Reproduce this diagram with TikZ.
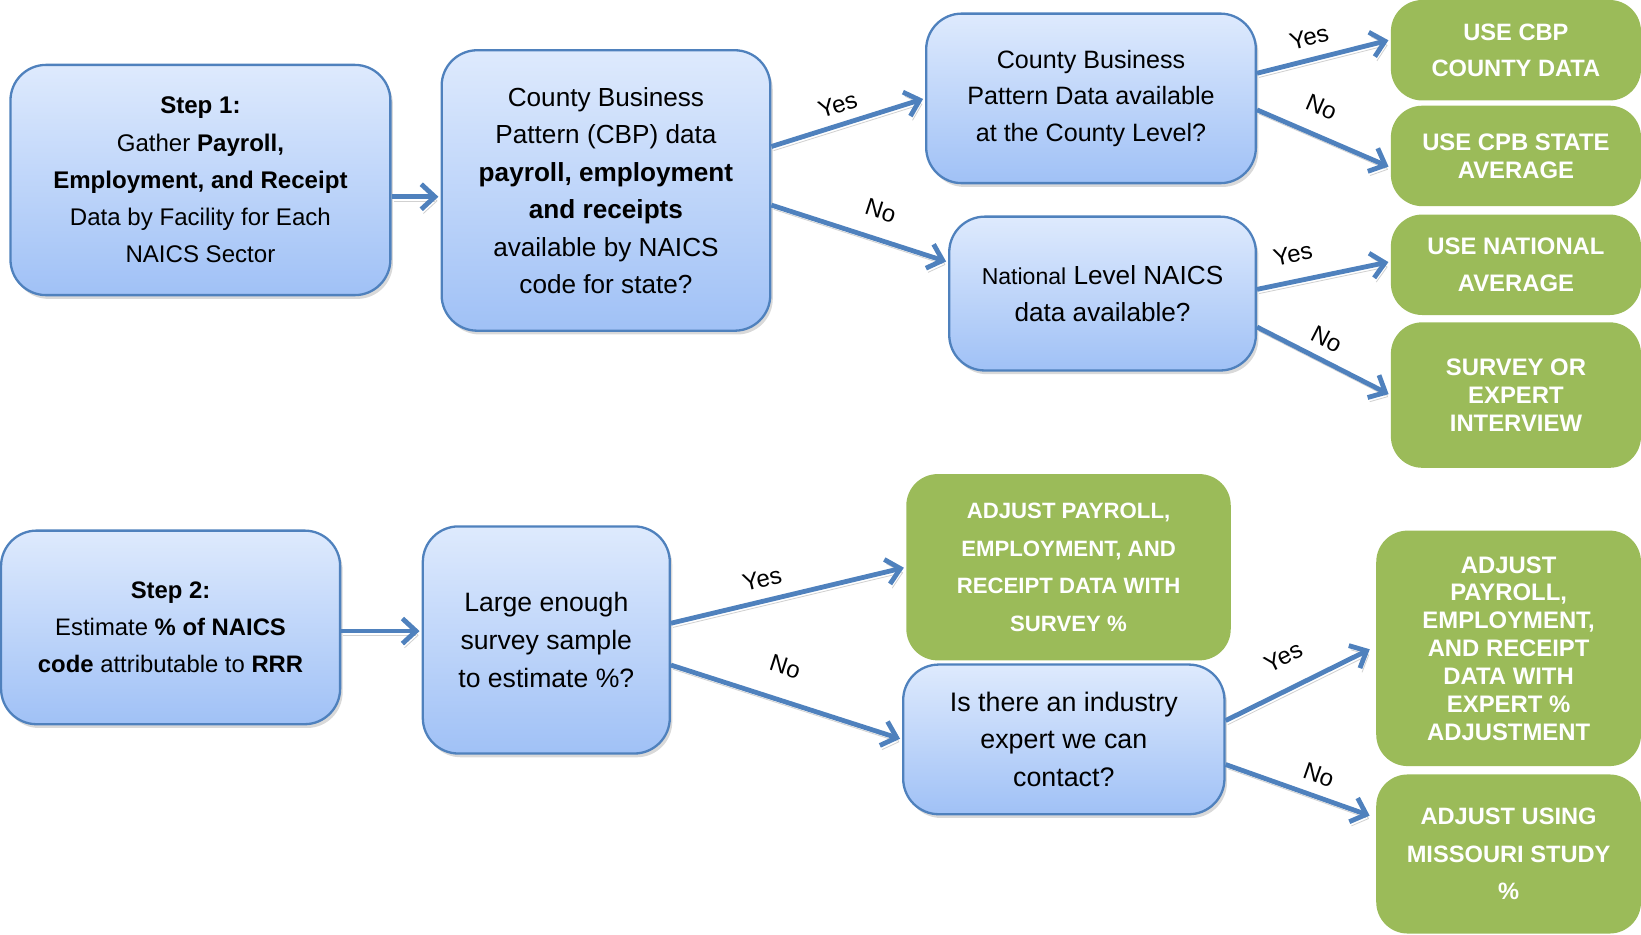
\documentclass[tikz,border=0pt]{standalone}
\usepackage{fontspec}
\setmainfont{Liberation Sans}
\usetikzlibrary{arrows.meta,shadows}
\definecolor{bluetop}{RGB}{222,234,253}
\definecolor{bluebot}{RGB}{160,193,246}
\definecolor{blueline}{RGB}{79,129,189}
\definecolor{greenfill}{RGB}{155,187,89}
\tikzset{
 bbox/.style={rectangle, rounded corners=17pt, draw=blueline, line width=1.1pt, top color=bluetop, bottom color=bluebot, align=center, inner sep=0pt, drop shadow={opacity=0.3,shadow xshift=1.2pt,shadow yshift=-1.8pt}},
 gbox/.style={rectangle, rounded corners=15pt, fill=greenfill, text=white, align=center, inner sep=0pt},
 conn/.style={draw=blueline, line width=2.3pt, shorten >=1pt, -{Straight Barb[length=6.5pt,width=12pt]},
   preaction={draw=black, opacity=0.18, transform canvas={xshift=1pt,yshift=-2pt}}},
 lbl/.style={sloped, above, font=\fontsize{11.5}{13}\selectfont, text=black}
}
\begin{document}
\begin{tikzpicture}[x=0.5pt,y=-0.5pt]
\useasboundingbox (0,0) rectangle (1568,893);
% blue boxes
\node[bbox, minimum width=181.5pt, minimum height=110pt, font=\fontsize{11.5}{17.8}\selectfont] (s1) at (191.5,172)
 {\textbf{Step 1:}\\Gather \textbf{Payroll,}\\\textbf{Employment, and Receipt}\\Data by Facility for Each\\NAICS Sector};
\node[bbox, minimum width=157pt, minimum height=134pt, font=\fontsize{12.5}{17.9}\selectfont] (cbp) at (579,182)
 {County Business\\Pattern (CBP) data\\\textbf{payroll, employment}\\\textbf{and receipts}\\available by NAICS\\code for state?};
\node[bbox, minimum width=157.5pt, minimum height=81pt, font=\fontsize{12}{17.5}\selectfont] (cty) at (1042.5,94)
 {County Business\\Pattern Data available\\at the County Level?};
\node[bbox, minimum width=146.5pt, minimum height=73.5pt, font=\fontsize{12.5}{18}\selectfont] (nat) at (1053.5,280.5)
 {{\fontsize{11}{18}\selectfont National} Level NAICS\\data available?};
\node[bbox, minimum width=162pt, minimum height=92.5pt, font=\fontsize{11.4}{17.8}\selectfont] (s2) at (163,599.5)
 {\textbf{Step 2:}\\Estimate \textbf{\% of NAICS}\\\textbf{code} attributable to \textbf{RRR}};
\node[bbox, minimum width=118pt, minimum height=108.5pt, font=\fontsize{12.7}{18}\selectfont] (lg) at (522,611.5)
 {Large enough\\survey sample\\to estimate \%?};
\node[bbox, minimum width=153.5pt, minimum height=71.5pt, font=\fontsize{12.8}{17.8}\selectfont] (ex) at (1016.5,706.5)
 {Is there an industry\\expert we can\\contact?};
% green boxes
\node[gbox, minimum width=119.5pt, minimum height=48pt, font=\bfseries\fontsize{11.3}{17.5}\selectfont] (g1) at (1448.5,48)
 {USE CBP\\COUNTY DATA};
\node[gbox, minimum width=119.5pt, minimum height=48pt, font=\bfseries\fontsize{11.4}{13.5}\selectfont] (g2) at (1448.5,149)
 {USE CPB STATE\\AVERAGE};
\node[gbox, minimum width=119.5pt, minimum height=48pt, font=\bfseries\fontsize{11.4}{18}\selectfont] (g3) at (1448.5,253)
 {USE NATIONAL\\AVERAGE};
\node[gbox, minimum width=119.5pt, minimum height=69.5pt, font=\bfseries\fontsize{11.4}{13.5}\selectfont] (g4) at (1448.5,377.5)
 {SURVEY OR\\EXPERT\\INTERVIEW};
\node[gbox, minimum width=155pt, minimum height=89pt, font=\bfseries\fontsize{10.6}{18}\selectfont] (g5) at (1021,542)
 {ADJUST PAYROLL,\\EMPLOYMENT, AND\\RECEIPT DATA WITH\\SURVEY \%};
\node[gbox, minimum width=126.5pt, minimum height=112.5pt, font=\bfseries\fontsize{11.4}{13.3}\selectfont] (g6) at (1441.5,619.5)
 {ADJUST\\PAYROLL,\\EMPLOYMENT,\\AND RECEIPT\\DATA WITH\\EXPERT \%\\ADJUSTMENT};
\node[gbox, minimum width=126.5pt, minimum height=76pt, font=\bfseries\fontsize{11.3}{18}\selectfont] (g7) at (1441.5,816)
 {ADJUST USING\\MISSOURI STUDY\\\%};
% connectors
\draw[conn] ([yshift=-8pt]s1.east) -- ([yshift=-3pt]cbp.west);
\draw[conn] ([yshift=21pt]cbp.east) -- (cty.west) node[lbl, pos=0.47, above=1pt] {Yes};
\draw[conn] ([yshift=-7pt]cbp.east) -- ([yshift=15pt]nat.west) node[lbl, pos=0.57, above=5pt] {No};
\draw[conn] ([yshift=12pt]cty.east) -- ([yshift=5pt]g1.west) node[lbl, pos=0.43, above=2pt] {Yes};
\draw[conn] ([yshift=-5.5pt]cty.east) -- ([yshift=-5.5pt]g2.west) node[lbl, pos=0.40, above=5pt] {No};
\draw[conn] ([yshift=2pt]nat.east) -- ([yshift=1.5pt]g3.west) node[lbl, pos=0.31, above=4.5pt] {Yes};
\draw[conn] ([yshift=-16pt]nat.east) -- (g4.west) node[lbl, pos=0.45, above=1.5pt] {No};
\draw[conn] ([yshift=-1.75pt]s2.east) -- ([yshift=4.25pt]lg.west);
\draw[conn] ([yshift=8pt]lg.east) -- (g5.west) node[lbl, pos=0.41, above=2pt] {Yes};
\draw[conn] ([yshift=-12pt]lg.east) -- (ex.west) node[lbl, pos=0.45, above=7.5pt] {No};
\draw[conn] ([yshift=9pt]ex.east) -- ([xshift=-2pt]g6.west) node[lbl, pos=0.49, above=6.5pt] {Yes};
\draw[conn] ([yshift=-12pt]ex.east) -- ([xshift=-2pt,yshift=18pt]g7.west) node[lbl, pos=0.59, above=1.5pt] {No};
\end{tikzpicture}
\end{document}
